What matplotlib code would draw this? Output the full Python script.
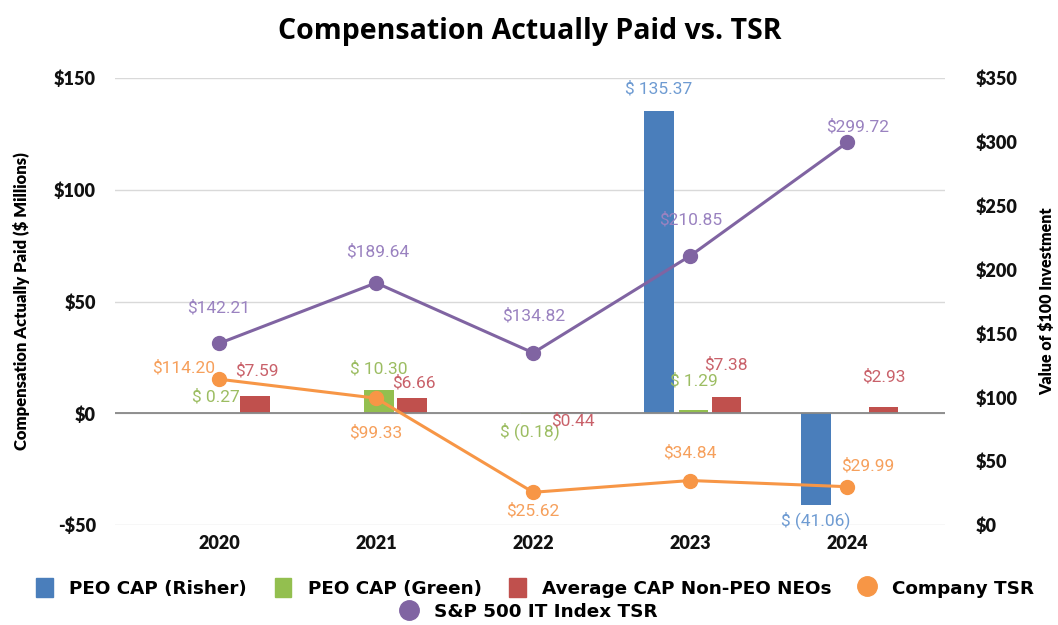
import numpy as np
import matplotlib.pyplot as plt
from matplotlib.lines import Line2D
from matplotlib.patches import Patch

# chart data
years = ['2020', '2021', '2022', '2023', '2024']
peo_risher = [np.nan, np.nan, np.nan, 135.37, -41.06]
peo_green = [0.27, 10.30, -0.18, 1.29, np.nan]
avg_neo = [7.59, 6.66, 0.44, 7.38, 2.93]
company_tsr = [114.20, 99.33, 25.62, 34.84, 29.99]
sp500_it_tsr = [142.21, 189.64, 134.82, 210.85, 299.72]


def money(v):
    if v < 0:
        return f'$ ({abs(v):.2f})'
    return f'$ {v:.2f}'


BLUE, GREEN, RED, ORANGE, PURPLE = '#4a7ebb', '#93bf4f', '#c0504d', '#f79646', '#8064a2'
L_BLUE, L_GREEN, L_RED, L_ORANGE, L_PURPLE = '#6e9bd2', '#9cbd62', '#c9616a', '#f6a05c', '#9a82c0'

HEAD = ['Lato', 'DejaVu Sans']
LBL = ['Roboto', 'DejaVu Sans']

fig = plt.figure(figsize=(10.58, 6.25), dpi=100)
ax = fig.add_axes([0.109, 0.16, 0.784, 0.715])
ax2 = ax.twinx()

x = np.arange(len(years))
w = 0.19
off_r, off_g, off_n = -0.2, 0.02, 0.23

ax.bar(x + off_r, peo_risher, w, color=BLUE, zorder=3)
ax.bar(x + off_g, peo_green, w, color=GREEN, zorder=3)
ax.bar(x + off_n, avg_neo, w, color=RED, zorder=3)

ax.set_ylim(-50, 150)
ax.set_yticks([-50, 0, 50, 100, 150])
ax.set_yticklabels(['-$50', '$0', '$50', '$100', '$150'])
ax.set_xlim(-0.66, 4.62)
ax.set_xticks(x)
ax.set_xticklabels(years)
ax.grid(axis='y', color='#d9d9d9', lw=1, zorder=0)
ax.axhline(0, color='#888888', lw=1.3, zorder=4)

ax2.plot(x, company_tsr, color=ORANGE, lw=2.2, marker='o', ms=10, zorder=5)
ax2.plot(x, sp500_it_tsr, color=PURPLE, lw=2.2, marker='o', ms=10, zorder=5)
ax2.set_ylim(0, 350)
ax2.set_yticks(range(0, 351, 50))
ax2.set_yticklabels([f'${v}' for v in range(0, 351, 50)])

for a in (ax, ax2):
    for s in a.spines.values():
        s.set_visible(False)
    a.tick_params(length=0, labelcolor='#111111')
    for t in a.get_xticklabels() + a.get_yticklabels():
        t.set_fontweight('heavy')
        t.set_family(HEAD)
        t.set_fontsize(13)
ax.tick_params(axis='y', pad=14)
ax.tick_params(axis='x', pad=7)
ax2.tick_params(axis='y', pad=22)

ax.set_ylabel('Compensation Actually Paid ($ Millions)', fontsize=12, fontweight='heavy',
              family=HEAD, labelpad=17)
ax2.set_ylabel('Value of $100 Investment', fontsize=11.5, fontweight='heavy',
               family=HEAD, labelpad=16)
ax.set_title('Compensation Actually Paid vs. TSR', fontsize=20.5, fontweight='bold',
             family=['Open Sans', 'DejaVu Sans'], pad=28)


def label(axis, xs, vals, offs, color, fmt):
    for xi, v, o in zip(xs, vals, offs):
        if np.isnan(v):
            continue
        axis.annotate(fmt(v), (xi, v), xytext=o, textcoords='offset pixels',
                      ha='center', va='center', color=color, fontsize=12.5,
                      family=LBL, zorder=6)


label(ax, x + off_r, peo_risher, [(0, 0)] * 3 + [(0, 22), (0, -15)], L_BLUE, money)
label(ax, x + off_g, peo_green, [(-6, 16), (0, 22), (-6, -17), (0, 30), (0, 0)], L_GREEN, money)
label(ax, x + off_n, avg_neo, [(2, 26), (2, 16), (4, -8), (0, 32), (0, 30)], L_RED,
      lambda v: f'${v:.2f}')
label(ax2, x, company_tsr, [(-35, 11), (0, -35), (0, -18), (0, 28), (20, 21)], L_ORANGE,
      lambda v: f'${v:.2f}')
label(ax2, x, sp500_it_tsr, [(0, 36), (2, 31), (0, 37), (0, 36), (10, 16)], L_PURPLE,
      lambda v: f'${v:.2f}')

row1 = [Patch(color=BLUE), Patch(color=GREEN), Patch(color=RED),
        Line2D([], [], color=ORANGE, marker='o', ls='', ms=14)]
names1 = ['PEO CAP (Risher)', 'PEO CAP (Green)', 'Average CAP Non-PEO NEOs', 'Company TSR']
leg_font = {'size': 13.2, 'weight': 'bold', 'family': ['DejaVu Sans']}
fig.legend(row1, names1, loc='center', bbox_to_anchor=(0.506, 0.059), ncol=4,
           frameon=False, prop=leg_font, handlelength=0.9, handleheight=1.2,
           columnspacing=1.5, handletextpad=0.9)
fig.legend([Line2D([], [], color=PURPLE, marker='o', ls='', ms=14)], ['S&P 500 IT Index TSR'],
           loc='center', bbox_to_anchor=(0.5, 0.021), frameon=False, prop=leg_font,
           handlelength=0.9, handletextpad=0.9)

fig.savefig('out.png', dpi=100)
